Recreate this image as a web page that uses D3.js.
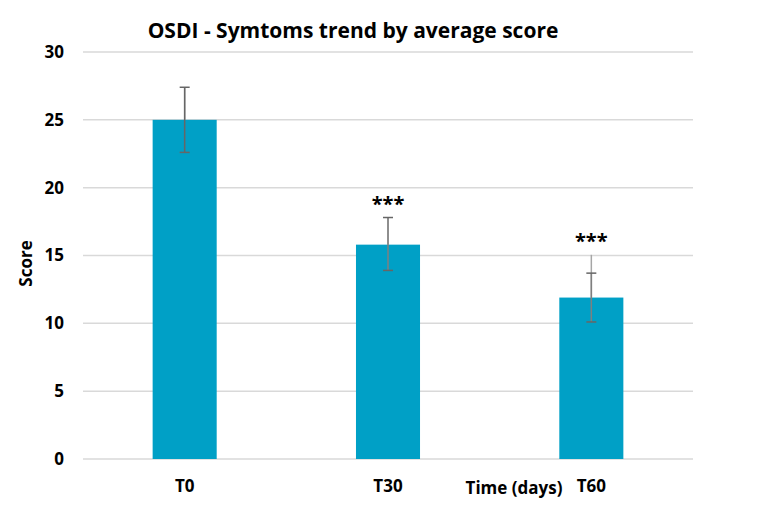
<!DOCTYPE html>
<html>
<head>
<meta charset="utf-8">
<script src="https://cdn.jsdelivr.net/npm/d3@7"></script>
<style>
  body { margin: 0; background: #fff; }
  text { font-family: "Open Sans", "Noto Sans", sans-serif; font-weight: bold; fill: #000; }
</style>
</head>
<body>
<div id="chart"></div>
<script>
// data
var categories = ["T0", "T30", "T60"]
var scores = [25.0, 15.8, 11.9]
var errLow = [22.6, 13.9, 10.1]    // lower cap
var errHigh = [27.4, 17.8, 13.7]   // upper cap
var whiskerTop = [27.4, 17.8, 15.05] // top of the thin line
var stars = ["", "***", "***"]
var yTicks = [0, 5, 10, 15, 20, 25, 30]

var W = 759, H = 505
var margin = {top: 52, right: 66, bottom: 46, left: 83},
    width = W - margin.left - margin.right,
    height = H - margin.top - margin.bottom;

var svg = d3.select("#chart")
  .append("svg")
    .attr("width", W)
    .attr("height", H)
  .append("g")
    .attr("transform", "translate(" + margin.left + "," + margin.top + ")");

var x = d3.scaleBand()
  .domain(categories)
  .range([0, width])
  .padding(0)
var barW = x.bandwidth() * 0.315

var y = d3.scaleLinear()
  .domain([0, 30])
  .range([height, 0]);

// gridlines
svg.append("g")
  .selectAll("line")
  .data(yTicks)
  .enter().append("line")
    .attr("x1", 0)
    .attr("x2", width)
    .attr("y1", d => y(d))
    .attr("y2", d => y(d))
    .attr("stroke", "#d9d9d9")
    .attr("stroke-width", 1.5);

// y axis labels
var yAxis = svg.append("g")
  .call(d3.axisLeft(y).tickValues(yTicks).tickSize(0).tickPadding(19))
yAxis.select(".domain").remove()
yAxis.selectAll("text")
  .style("font-size", "17px")
  .style("font-family", "'Open Sans', sans-serif")
  .style("font-weight", "bold")

// bars
var cx = d => x(d) + x.bandwidth() / 2
svg.append("g")
  .selectAll("rect")
  .data(categories)
  .enter().append("rect")
    .attr("x", d => cx(d) - barW / 2)
    .attr("y", (d, i) => y(scores[i]))
    .attr("width", barW)
    .attr("height", (d, i) => height - y(scores[i]))
    .attr("fill", "#00a0c6");

// error bars
var eb = svg.append("g")
eb.selectAll(".thin")
  .data(categories)
  .enter().append("line")
    .attr("x1", cx).attr("x2", cx)
    .attr("y1", (d, i) => y(whiskerTop[i]))
    .attr("y2", (d, i) => y(scores[i]))
    .attr("stroke", "#a6a6a6")
    .attr("stroke-width", 1.5);
eb.selectAll(".main")
  .data(categories)
  .enter().append("line")
    .attr("x1", cx).attr("x2", cx)
    .attr("y1", (d, i) => y(errHigh[i]))
    .attr("y2", (d, i) => y(errLow[i]))
    .attr("stroke", (d, i) => i == 0 ? "#666" : "#7f7f7f")
    .attr("stroke-width", 1.5);
[errHigh, errLow].forEach(function(arr) {
  eb.selectAll(null)
    .data(categories)
    .enter().append("line")
      .attr("x1", d => cx(d) - 5).attr("x2", d => cx(d) + 5)
      .attr("y1", (d, i) => y(arr[i]))
      .attr("y2", (d, i) => y(arr[i]))
      .attr("stroke", "#666")
      .attr("stroke-width", 1.5);
})

// significance marks
svg.append("g")
  .selectAll("text")
  .data(categories)
  .enter().append("text")
    .attr("x", cx)
    .attr("y", (d, i) => y(whiskerTop[i]) - 7)
    .attr("text-anchor", "middle")
    .style("font-size", "20px")
    .text((d, i) => stars[i]);

// x labels
svg.append("g")
  .selectAll("text")
  .data(categories)
  .enter().append("text")
    .attr("x", cx)
    .attr("y", height + 33)
    .attr("text-anchor", "middle")
    .style("font-size", "17px")
    .text(d => d);

svg.append("text")
  .attr("x", 431)
  .attr("y", height + 35)
  .attr("text-anchor", "middle")
  .style("font-size", "17px")
  .text("Time (days)");

svg.append("text")
  .attr("transform", "translate(-51," + (height / 2 + 8) + ") rotate(-90)")
  .attr("text-anchor", "middle")
  .style("font-size", "17px")
  .text("Score");

svg.append("text")
  .attr("x", 270)
  .attr("y", -14)
  .attr("text-anchor", "middle")
  .style("font-size", "21px")
  .text("OSDI - Symtoms trend by average score");
</script>
</body>
</html>
